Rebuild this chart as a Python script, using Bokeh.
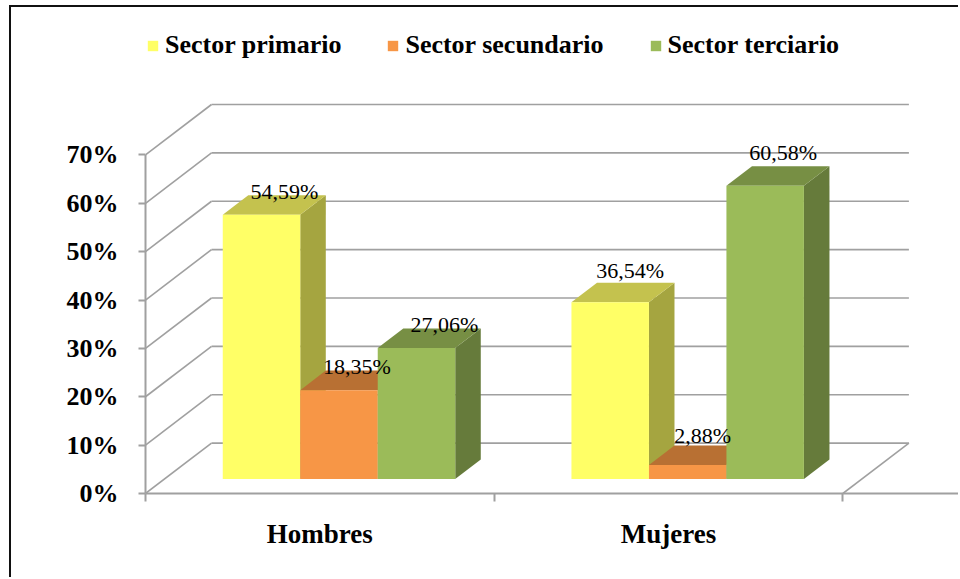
from bokeh.embed import file_html
from bokeh.resources import INLINE
from bokeh.plotting import figure
from bokeh.models import (ColumnDataSource, Range1d, LinearAxis, FixedTicker, PrintfTickFormatter,
                          Legend, LegendItem)
from bokeh.core.properties import value

categories = ["Hombres", "Mujeres"]
series_names = ["Sector primario", "Sector secundario", "Sector terciario"]
primario = [54.59, 36.54]
secundario = [18.35, 2.88]
terciario = [27.06, 60.58]
series_values = [primario, secundario, terciario]
y_ticks = [0, 10, 20, 30, 40, 50, 60, 70]
data_labels = [["54,59%", "36,54%"], ["18,35%", "2,88%"], ["27,06%", "60,58%"]]

front_colors = ["#FFFF66", "#F79646", "#9BBB59"]
top_colors = ["#C4C24E", "#B87033", "#778F44"]
side_colors = ["#A5A540", "#94602F", "#667B3B"]
label_dx = [[23, 20], [18, 15], [28, 18]]
label_dy = [[-23, -32], [-24, -29], [-23, -33]]

PX_X = 348.7
PX_Y = 4.837
GREY = "#A0A0A0"
SERIF = "Liberation Serif"
DEPTH_X = 66 / PX_X
DEPTH_Y = 50.4 / PX_Y
BAR_W = 1 / 4.5
NEAR = 0.29
FAR = 0.677

p = figure(width=949, height=572, output_backend="svg", toolbar_location=None,
           x_range=Range1d(0, 815 / PX_X), y_range=Range1d(0, 486 / PX_Y),
           min_border_left=134, min_border_right=0, min_border_top=0, min_border_bottom=86,
           margin=(5, 0, 0, 9),
           styles={"border-left": "2px solid #111111", "border-top": "2px solid #111111"},
           x_axis_type=None, y_axis_type=None,
           background_fill_color="white", border_fill_color="white", outline_line_color=None)
p.grid.visible = False

# walls
n = len(categories)
p.segment(x0=[0] * len(y_ticks), y0=y_ticks, x1=[DEPTH_X] * len(y_ticks), y1=[t + DEPTH_Y for t in y_ticks],
          line_color=GREY, line_width=1.6)
p.segment(x0=[DEPTH_X] * len(y_ticks), y0=[t + DEPTH_Y for t in y_ticks],
          x1=[n + DEPTH_X] * len(y_ticks), y1=[t + DEPTH_Y for t in y_ticks],
          line_color=GREY, line_width=1.6)
p.segment(x0=[n], y0=[0], x1=[n + DEPTH_X], y1=[DEPTH_Y], line_color=GREY, line_width=1.6)

# bars
items = []
nx, ny = NEAR * DEPTH_X, NEAR * DEPTH_Y
fx, fy = FAR * DEPTH_X, FAR * DEPTH_Y
for s, vals in enumerate(series_values):
    left = [i + BAR_W * (0.75 + s) + nx for i in range(n)]
    right = [l + BAR_W for l in left]
    side = p.patches(
        xs=[[r, r + fx - nx, r + fx - nx, r] for r in right],
        ys=[[ny, fy, v + fy, v + ny] for v in vals],
        fill_color=side_colors[s], line_color=None)
    top = p.patches(
        xs=[[l, r, r + fx - nx, l + fx - nx] for l, r in zip(left, right)],
        ys=[[v + ny, v + ny, v + fy, v + fy] for v in vals],
        fill_color=top_colors[s], line_color=None)
    front = p.quad(left=left, right=right, bottom=[ny] * n, top=[v + ny for v in vals],
                   fill_color=front_colors[s], line_color=None)
    items.append(LegendItem(label=series_names[s], renderers=[front]))

# data labels
for s, vals in enumerate(series_values):
    src = ColumnDataSource(dict(
        x=[i + BAR_W * (1.25 + s) + nx for i in range(n)],
        y=[v + ny for v in vals],
        t=data_labels[s], dx=label_dx[s], dy=label_dy[s]))
    p.text(x="x", y="y", text="t", x_offset="dx", y_offset="dy", source=src,
           text_align="center", text_baseline="alphabetic",
           text_font=value(SERIF), text_font_size="22px", text_color="#000000")

# axes
yaxis = LinearAxis(ticker=FixedTicker(ticks=y_ticks), formatter=PrintfTickFormatter(format="%d%%"),
                   bounds=(0, 70))
yaxis.axis_line_color = GREY
yaxis.axis_line_width = 2
yaxis.major_tick_line_color = GREY
yaxis.major_tick_line_width = 2
yaxis.major_tick_in = 0
yaxis.major_tick_out = 7
yaxis.minor_tick_line_color = None
yaxis.major_label_standoff = 20
yaxis.major_label_text_font = SERIF
yaxis.major_label_text_font_style = "bold"
yaxis.major_label_text_font_size = "26px"
yaxis.major_label_text_color = "#000000"
p.add_layout(yaxis, "left")

xticks = LinearAxis(ticker=FixedTicker(ticks=list(range(n + 1))), major_label_text_font_size="0px")
xticks.axis_line_color = GREY
xticks.axis_line_width = 2
xticks.major_tick_line_color = GREY
xticks.major_tick_line_width = 2
xticks.major_tick_in = 0
xticks.major_tick_out = 8
xticks.minor_tick_line_color = None
xticks.major_label_overrides = {i: "" for i in range(n + 1)}
p.add_layout(xticks, "below")

centers = [i + 0.5 for i in range(n)]
xlabels = LinearAxis(ticker=FixedTicker(ticks=centers),
                     major_label_overrides=dict(zip(centers, categories)))
xlabels.axis_line_color = None
xlabels.major_tick_line_color = None
xlabels.minor_tick_line_color = None
xlabels.major_label_standoff = 11
xlabels.major_label_text_font = SERIF
xlabels.major_label_text_font_style = "bold"
xlabels.major_label_text_font_size = "27px"
xlabels.major_label_text_color = "#000000"
p.add_layout(xlabels, "below")

legend = Legend(items=items, orientation="horizontal", location=(1, 433), margin=0, padding=0,
                spacing=45, label_standoff=6, glyph_width=13, glyph_height=13,
                background_fill_alpha=0, border_line_color=None,
                label_text_font=SERIF, label_text_font_style="bold", label_text_font_size="26px",
                label_text_color="#000000")
p.add_layout(legend, "center")

open("out.html", "w").write(file_html(p, INLINE))
